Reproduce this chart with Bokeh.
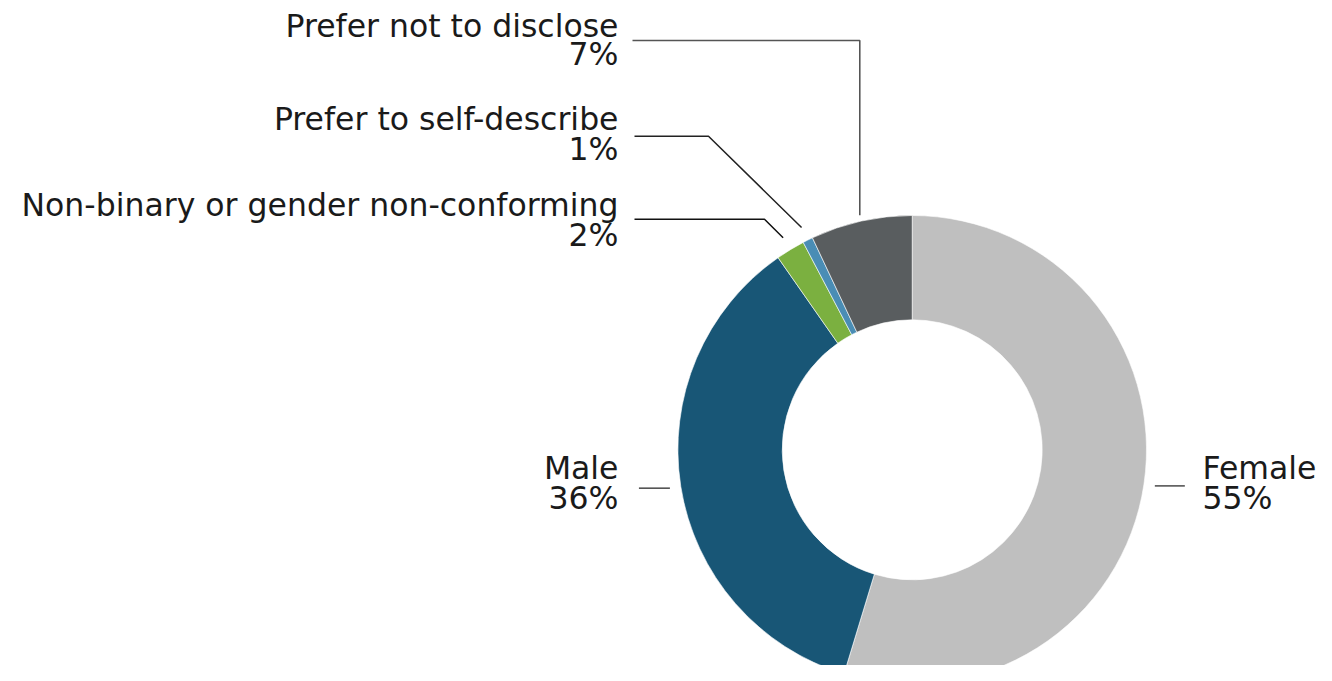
import math
from bokeh.plotting import figure
from bokeh.models import Range1d, ColumnDataSource
from bokeh.core.properties import value
from bokeh.embed import file_html
from bokeh.resources import INLINE

# ---- data ----
categories = ["Female", "Male", "Non-binary or gender non-conforming",
              "Prefer to self-describe", "Prefer not to disclose"]
shares = [54.7, 35.6, 2.0, 0.7, 7.0]
pct_labels = ["55%", "36%", "2%", "1%", "7%"]
colors = ["#BFBFBF", "#185676", "#7BB040", "#4A8DB5", "#595D5F"]

# ---- layout ----
W, H = 1316, 665
def px(x):  # screen x -> data x
    return x
def py(y):  # screen y -> data y
    return H - y

cx, cy = px(911.7), py(449.3)
r_out, r_in = 234.3, 130.0

total = sum(shares)
cum = [0.0]
for s in shares:
    cum.append(cum[-1] + s / total)
starts = [math.pi / 2 - 2 * math.pi * cum[i + 1] for i in range(len(shares))]
ends = [math.pi / 2 - 2 * math.pi * cum[i] for i in range(len(shares))]
mids = [cum[i] + shares[i] / total / 2 for i in range(len(shares))]

p = figure(width=W, height=H, x_range=Range1d(0, W), y_range=Range1d(0, H),
           output_backend="svg", toolbar_location=None, min_border=0)
p.axis.visible = False
p.grid.visible = False
p.outline_line_color = None
p.background_fill_color = "white"
p.border_fill_color = "white"

src = ColumnDataSource(dict(start=starts, end=ends, color=colors, cat=categories))
p.annular_wedge(x=cx, y=cy, inner_radius=r_in, outer_radius=r_out,
                start_angle="start", end_angle="end", fill_color="color",
                line_color="white", line_width=0.6, source=src)

def anchor(i, r):
    a = 2 * math.pi * mids[i]
    return cx + r * math.sin(a), cy + r * math.cos(a)

# leader lines
ax, ay = anchor(0, r_out + 11)
p.line([ax, ax + 30], [ay, ay], line_color="#555555", line_width=1.6)
ax, ay = anchor(1, r_out + 11)
p.line([ax - 31, ax], [ay, ay], line_color="#555555", line_width=1.6)
ax, ay = anchor(2, r_out + 14)
p.line([px(634), px(764), ax], [py(218.7), py(218.7), ay], line_color="#111111", line_width=1.5)
ax, ay = anchor(3, r_out + 14)
p.line([px(634), px(708), ax], [py(135.7), py(135.7), ay], line_color="#222222", line_width=1.5)
ax, ay = anchor(4, r_out + 6)
p.line([px(632), ax, ax], [py(40), py(40), ay], line_color="#555555", line_width=1.6)

# labels
font = value("DejaVu Sans")
fs = "31.5px"
tc = "#1A1A1A"
dy = 10
left_x = [px(618)] * 4
left_idx = [4, 3, 2, 1]
name_y = [py(35 - dy), py(128.3 - dy), py(214.5 - dy), py(477 - dy)]
pct_y = [py(63.5 - dy), py(158.3 - dy), py(244 - dy), py(507 - dy)]
p.text(x=left_x, y=name_y, text=[categories[i] for i in left_idx],
       text_align="right", text_baseline="alphabetic", text_font=font,
       text_font_size=fs, text_color=tc)
p.text(x=left_x, y=pct_y, text=[pct_labels[i] for i in left_idx],
       text_align="right", text_baseline="alphabetic", text_font=font,
       text_font_size=fs, text_color=tc)
p.text(x=[px(1202)] * 2, y=[py(477 - dy), py(507 - dy)], text=[categories[0], pct_labels[0]],
       text_align="left", text_baseline="alphabetic", text_font=font,
       text_font_size=fs, text_color=tc)

open("out.html", "w").write(file_html(p, INLINE))
